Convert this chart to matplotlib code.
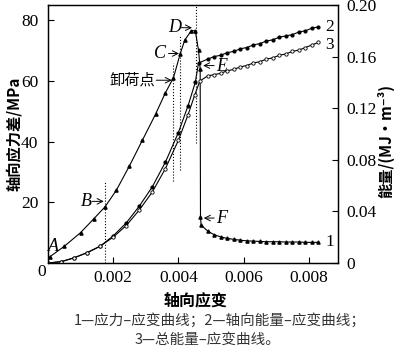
import matplotlib
matplotlib.use('Agg')
import matplotlib.pyplot as plt

plt.rcParams['font.family'] = ['Liberation Serif', 'Noto Sans CJK SC', 'DejaVu Sans']
CJK = ['Noto Sans CJK SC', 'DejaVu Sans']

# 曲线1: 应力-应变 (左轴, MPa)
strain1 = [0.00005, 0.0005, 0.001, 0.0014, 0.00175, 0.0021, 0.0025, 0.0029, 0.0033,
           0.0036, 0.00385, 0.00406, 0.0042, 0.0044, 0.00452, 0.00462, 0.00467, 0.00468,
           0.0047, 0.0049, 0.0051, 0.0053, 0.0055, 0.0057, 0.0059, 0.0061, 0.0063, 0.0065,
           0.0067, 0.0069, 0.0071, 0.0073, 0.0075, 0.0077, 0.0079, 0.0081, 0.0083]
stress1 = [2.0, 5.5, 10.0, 14.5, 18.5, 24.0, 32.0, 40.5, 49.0,
           56.0, 61.0, 69.0, 73.5, 76.5, 76.5, 70.0, 64.0, 15.0,
           12.5, 10.5, 9.3, 8.6, 8.1, 7.8, 7.5, 7.3, 7.2, 7.1,
           7.0, 7.0, 7.0, 6.9, 6.9, 6.9, 6.8, 6.8, 6.8]

# 曲线2: 轴向能量-应变 (右轴, MJ/m3)
strain2 = [0.0, 0.0004, 0.0008, 0.0012, 0.0016, 0.002, 0.0024, 0.0028, 0.0032, 0.0036,
           0.004, 0.0043, 0.00452, 0.00462,
           0.0049, 0.0051, 0.0053, 0.0055, 0.0057, 0.0059, 0.0061, 0.0063, 0.0065,
           0.0067, 0.0069, 0.0071, 0.0073, 0.0075, 0.0077, 0.0079, 0.0081, 0.0083]
energy2 = [0.0, 0.001, 0.004, 0.008, 0.013, 0.021, 0.031, 0.044, 0.059, 0.078,
           0.101, 0.122, 0.140, 0.155,
           0.158, 0.160, 0.161, 0.163, 0.164, 0.166, 0.167, 0.169, 0.170,
           0.172, 0.173, 0.175, 0.176, 0.177, 0.179, 0.180, 0.182, 0.183]

# 曲线3: 总能量-应变 (右轴)
strain3 = [0.0, 0.0004, 0.0008, 0.0012, 0.0016, 0.002, 0.0024, 0.0028, 0.0032, 0.0036,
           0.004, 0.0043, 0.0045, 0.00466,
           0.0049, 0.0051, 0.0053, 0.0055, 0.0057, 0.0059, 0.0061, 0.0063, 0.0065,
           0.0067, 0.0069, 0.0071, 0.0073, 0.0075, 0.0077, 0.0079, 0.0081, 0.0083]
energy3 = [0.0, 0.001, 0.004, 0.008, 0.013, 0.020, 0.029, 0.041, 0.055, 0.073,
           0.095, 0.115, 0.130, 0.141,
           0.145, 0.146, 0.147, 0.149, 0.150, 0.152, 0.153, 0.155, 0.156,
           0.158, 0.159, 0.161, 0.162, 0.164, 0.165, 0.167, 0.169, 0.171]

# 虚线位置 (x, 下端, 上端), 左轴坐标
guide_x = [0.00175, 0.00385, 0.00406, 0.00455]
guide_lo = [0.0, 27.0, 30.5, 39.5]
guide_hi = [27.0, 66.0, 75.0, 85.0]

fig = plt.figure(figsize=(4.0, 3.53), dpi=100)
ax = fig.add_axes([0.12, 0.255, 0.725, 0.731])
ax2 = ax.twinx()

ax.plot(strain1, stress1, color='black', lw=0.8, marker='^', ms=2.3)
ax2.plot(strain2, energy2, color='black', lw=0.8, marker='o', ms=2.0)
ax2.plot(strain3, energy3, color='black', lw=0.8, marker='o', ms=2.4, mfc='white', mew=0.6)

ax.vlines(guide_x, guide_lo, guide_hi, colors='black', linestyles=':', lw=0.8)

ax.set_xlim(0, 0.0089)
ax.set_ylim(0, 85)
ax2.set_ylim(0, 0.2)
ax.set_xticks([0.002, 0.004, 0.006, 0.008])
ax.set_xticklabels(['0.002', '0.004', '0.006', '0.008'])
ax.set_yticks([20, 40, 60, 80])
ax2.set_yticks([0, 0.04, 0.08, 0.12, 0.16, 0.20])
ax2.set_yticklabels(['0', '0.04', '0.08', '0.12', '0.16', '0.20'])
for a in (ax, ax2):
    a.tick_params(direction='in', length=4, width=0.8, labelsize=12.5)
    for s in a.spines.values():
        s.set_linewidth(0.9)
ax.tick_params(axis='y', pad=7)
ax.tick_params(axis='x', pad=5)
ax2.tick_params(axis='y', pad=6)
fig.text(0.105, 0.23, '0', fontsize=12.5, ha='center', va='center')

# 标注
arrow = dict(arrowstyle='->', lw=0.7, color='black', shrinkA=0, shrinkB=0)
lab = dict(fontsize=13, style='italic', ha='center', va='center')
ax.text(0.00016, 5.5, 'A', **lab)
ax.text(0.00118, 20.3, 'B', **lab)
ax.annotate('', xy=(0.00171, 20.3), xytext=(0.00135, 20.3), arrowprops=arrow)
ax.text(0.00345, 69.0, 'C', **lab)
ax.annotate('', xy=(0.00402, 69.0), xytext=(0.0037, 69.0), arrowprops=arrow)
ax.text(0.0039, 77.5, 'D', **lab)
ax.annotate('', xy=(0.00442, 77.5), xytext=(0.00408, 77.5), arrowprops=arrow)
ax.text(0.00258, 60.2, '卸荷点', fontsize=11, family=CJK, ha='center', va='center')
ax.annotate('', xy=(0.0038, 60.2), xytext=(0.00332, 60.2), arrowprops=arrow)
ax2.annotate('', xy=(0.00476, 0.153), xytext=(0.0051, 0.153), arrowprops=arrow)
ax2.text(0.00532, 0.152, 'E', **lab)
ax.annotate('', xy=(0.00478, 14.8), xytext=(0.0051, 14.8), arrowprops=arrow)
ax.text(0.00532, 14.8, 'F', **lab)
ax.text(0.0085, 7.0, '1', fontsize=12.5, ha='left', va='center')
ax2.text(0.0085, 0.183, '2', fontsize=12.5, ha='left', va='center')
ax2.text(0.0085, 0.169, '3', fontsize=12.5, ha='left', va='center')

fig.text(0.035, 0.62, '轴向应力差/MPa', rotation=90, fontsize=11, fontweight='bold',
         family=CJK, ha='center', va='center')
fig.text(0.963, 0.60, '能量/(MJ·m⁻³)', rotation=90, fontsize=11, fontweight='bold',
         family=CJK, ha='center', va='center')
fig.text(0.49, 0.15, '轴向应变', fontsize=11.5, fontweight='bold', family=CJK,
         ha='center', va='center')
fig.text(0.55, 0.093, '1—应力–应变曲线；2—轴向能量–应变曲线；', fontsize=10.5,
         family=CJK, color='#333333', ha='center', va='center')
fig.text(0.52, 0.037, '3—总能量–应变曲线。', fontsize=10.5, family=CJK,
         color='#333333', ha='center', va='center')

fig.savefig('out.png', dpi=100)
